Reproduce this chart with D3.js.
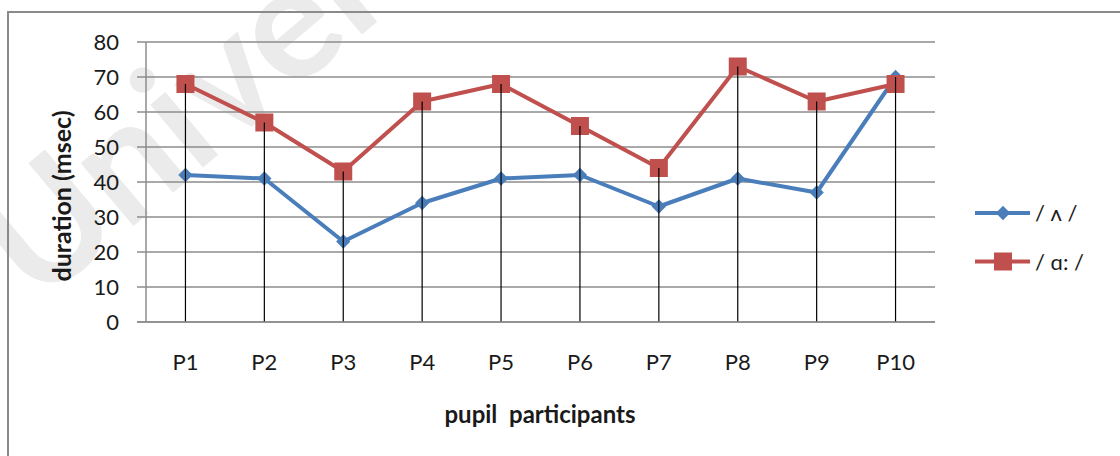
<!DOCTYPE html>
<html>
<head>
<meta charset="utf-8">
<script src="https://cdn.jsdelivr.net/npm/d3@7"></script>
<style>
  body { margin: 0; background: #fff; }
  svg { display: block; }
  text { font-family: Lato, "Open Sans", sans-serif; fill: #1a1a1a; }
</style>
</head>
<body>
<svg id="chart" width="1120" height="456"></svg>
<script>
// data
var participants = ["P1", "P2", "P3", "P4", "P5", "P6", "P7", "P8", "P9", "P10"];
var shortVowel = [42, 41, 23, 34, 41, 42, 33, 41, 37, 70];   // / ʌ /
var longVowel = [68, 57, 43, 63, 68, 56, 44, 73, 63, 68];    // / ɑ: /
var yTicks = [0, 10, 20, 30, 40, 50, 60, 70, 80];
var seriesNames = ["/ \u028c /", "/ \u0251: /"];

var svg = d3.select("#chart");
var plot = { left: 146, right: 935, top: 42, bottom: 322 };
var blue = "#4a7ebb", red = "#c0504d", grid = "#8c8c8c";

// watermark
svg.append("text")
    .attr("transform", "translate(37,307) rotate(-40)")
    .style("font-size", "160px")
    .style("font-weight", "bold")
    .style("fill", "#ebebeb")
    .text("Univer");

// outer frame
svg.append("rect")
    .attr("x", 8).attr("y", 12)
    .attr("width", 1130).attr("height", 460)
    .attr("fill", "none")
    .attr("stroke", "#8a8a8a")
    .attr("stroke-width", 2);

var x = d3.scaleBand().domain(participants).range([plot.left, plot.right]);
var y = d3.scaleLinear().domain([0, 80]).range([plot.bottom, plot.top]);
var cx = function (d) { return x(d) + x.bandwidth() / 2; };

// gridlines (with the small tick stub on the left)
svg.append("g").selectAll("line")
    .data(yTicks).enter().append("line")
    .attr("x1", plot.left - 9).attr("x2", plot.right)
    .attr("y1", function (d) { return y(d); })
    .attr("y2", function (d) { return y(d); })
    .attr("stroke", grid).attr("stroke-width", 1.5);

svg.append("line")
    .attr("x1", plot.left).attr("x2", plot.left)
    .attr("y1", plot.top).attr("y2", plot.bottom)
    .attr("stroke", grid).attr("stroke-width", 1.5);

// y tick labels
var yAxis = d3.axisLeft(y).tickValues(yTicks).tickSize(0).tickPadding(0);
var yg = svg.append("g").attr("transform", "translate(119,0)").call(yAxis);
yg.select(".domain").remove();
yg.selectAll("text").style("font-size", "22px").attr("fill", "#1a1a1a").attr("font-family", null);

// x tick labels
var xAxis = d3.axisBottom(x).tickSize(0).tickPadding(0);
var xg = svg.append("g").attr("transform", "translate(0,354)").call(xAxis);
xg.select(".domain").remove();
xg.selectAll("text").style("font-size", "22px").attr("fill", "#1a1a1a").attr("font-family", null);

// axis titles
svg.append("text")
    .attr("transform", "translate(71,196) rotate(-90)")
    .attr("text-anchor", "middle")
    .style("font-size", "25px").style("font-weight", "bold")
    .text("duration (msec)");

svg.append("text")
    .attr("x", 540).attr("y", 423)
    .attr("text-anchor", "middle")
    .style("font-size", "24px").style("font-weight", "bold")
    .attr("xml:space", "preserve")
    .text("pupil  participants");

var line = d3.line()
    .x(function (d, i) { return cx(participants[i]); })
    .y(function (d) { return y(d); });

// blue series
svg.append("path").datum(shortVowel)
    .attr("d", line).attr("fill", "none")
    .attr("stroke", blue).attr("stroke-width", 4).attr("stroke-linejoin", "round");
var diamond = d3.symbol().type(d3.symbolDiamond2).size(130);
svg.append("g").selectAll("path")
    .data(shortVowel).enter().append("path")
    .attr("d", diamond)
    .attr("transform", function (d, i) { return "translate(" + cx(participants[i]) + "," + y(d) + ")"; })
    .attr("fill", blue);

// red series
svg.append("path").datum(longVowel)
    .attr("d", line).attr("fill", "none")
    .attr("stroke", red).attr("stroke-width", 4).attr("stroke-linejoin", "round");
svg.append("g").selectAll("rect")
    .data(longVowel).enter().append("rect")
    .attr("x", function (d, i) { return cx(participants[i]) - 9; })
    .attr("y", function (d) { return y(d) - 9; })
    .attr("width", 18).attr("height", 18)
    .attr("fill", red);

// drop lines
svg.append("g").selectAll("line")
    .data(participants).enter().append("line")
    .attr("x1", cx).attr("x2", cx)
    .attr("y1", function (d, i) { return y(Math.max(shortVowel[i], longVowel[i])); })
    .attr("y2", plot.bottom)
    .attr("stroke", "#000").attr("stroke-width", 1.2);

// x axis line
svg.append("line")
    .attr("x1", plot.left - 9).attr("x2", plot.right)
    .attr("y1", plot.bottom).attr("y2", plot.bottom)
    .attr("stroke", grid).attr("stroke-width", 1.5);

// legend
var legend = svg.append("g").selectAll("g")
    .data(seriesNames).enter().append("g")
    .attr("transform", function (d, i) { return "translate(975," + (213 + i * 48.5) + ")"; });
legend.append("line")
    .attr("x1", 0).attr("x2", 55)
    .attr("stroke", function (d, i) { return i ? red : blue; })
    .attr("stroke-width", 4);
legend.each(function (d, i) {
    var g = d3.select(this);
    if (i === 0) {
        g.append("path").attr("d", diamond).attr("transform", "translate(28,0)").attr("fill", blue);
    } else {
        g.append("rect").attr("x", 19).attr("y", -9).attr("width", 18).attr("height", 18).attr("fill", red);
    }
});
legend.append("text")
    .attr("x", 60).attr("y", 8)
    .style("font-size", "22px")
    .text(function (d) { return d; });
</script>
</body>
</html>
